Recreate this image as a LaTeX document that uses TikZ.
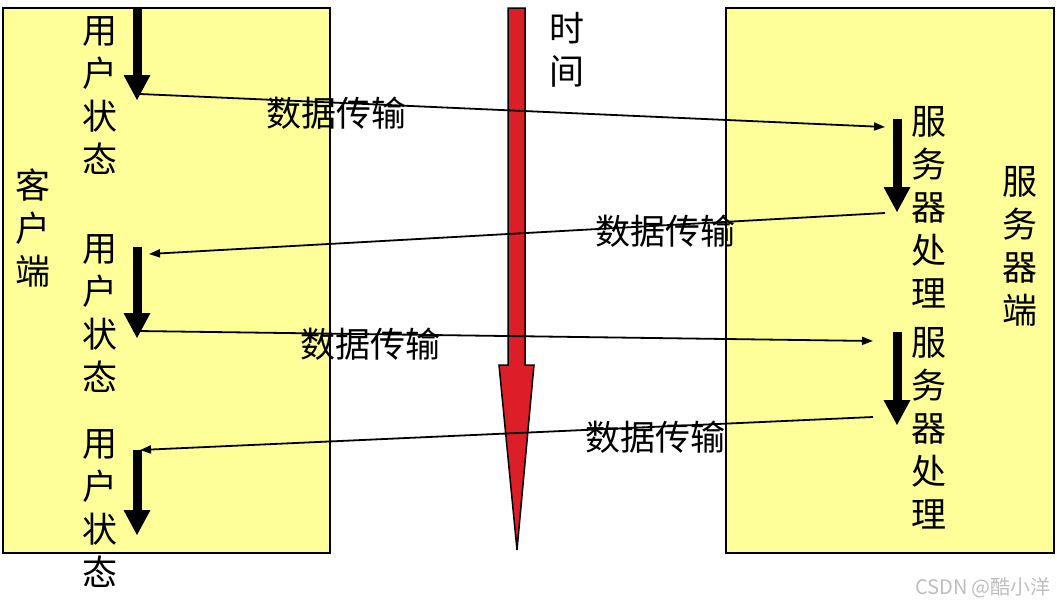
\documentclass[tikz,border=0pt]{standalone}
\usepackage{fontspec}
\newfontfamily\cjk{Noto Sans CJK SC}
\usetikzlibrary{arrows.meta}
\definecolor{boxyellow}{RGB}{255,255,153}
\definecolor{timered}{RGB}{220,30,40}
\definecolor{wmgray}{RGB}{190,190,190}
\tikzset{
  panel/.style={draw=black,line width=2pt},
  vtext/.style={font=\cjk\fontsize{35}{43}\selectfont,align=center,inner sep=0pt},
  lbl/.style={font=\cjk\fontsize{35}{40}\selectfont,inner sep=0pt},
  datalink/.style={line width=1.8pt,-{Triangle[length=11pt,width=8pt]}},
  procarrow/.style={line width=9pt,-{Triangle[length=25pt,width=27pt,line width=0pt]}},
}
\begin{document}
\begin{tikzpicture}[x=1pt,y=-1pt]
\useasboundingbox (0,0) rectangle (1057,606);
% panels fill
\fill[boxyellow] (3,8) rectangle (330,553);
\fill[boxyellow] (726,8) rectangle (1054,553);
% time arrow
\filldraw[fill=timered,draw=black,line width=1.5pt]
  (508,8) -- (525,8) -- (525,365) -- (534,365) -- (517,550) -- (499,365) -- (508,365) -- cycle;
% texts
\node[vtext] (client) at (33,228) {客\\户\\端};
\node[vtext] (server) at (1020,246) {服\\务\\器\\端};
\node[vtext] (time) at (567,50) {时\\间};
\node[vtext] (us1) at (100,96) {用\\户\\状\\态};
\node[vtext] (us2) at (100,314) {用\\户\\状\\态};
\node[vtext] (us3) at (100,509) {用\\户\\状\\态};
\node[vtext] (sp1) at (929,207) {服\\务\\器\\处\\理};
\node[vtext] (sp2) at (929,428) {服\\务\\器\\处\\理};
\node[lbl] (l1) at (336,113) {数据传输};
\node[lbl] (l2) at (665,231) {数据传输};
\node[lbl] (l3) at (370,344) {数据传输};
\node[lbl] (l4) at (655,437) {数据传输};
\node[font=\cjk\fontsize{20}{22}\selectfont,text=wmgray,inner sep=0pt] (wm) at (983,588) {CSDN @酷小洋};
% panel borders
\draw[panel] (3,8) rectangle (330,553);
\draw[panel] (726,8) rectangle (1054,553);
% coordinates
\coordinate (c1s) at (137,8);   \coordinate (c1e) at (137,100);
\coordinate (c2s) at (137,247); \coordinate (c2e) at (137,338);
\coordinate (c3s) at (137,450); \coordinate (c3e) at (137,535);
\coordinate (s1s) at (897,119); \coordinate (s1e) at (897,212);
\coordinate (s2s) at (897,332); \coordinate (s2e) at (897,425);
\coordinate (d1a) at (140,94);  \coordinate (d1b) at (885,127);
\coordinate (d2a) at (885,213); \coordinate (d2b) at (149,254);
\coordinate (d3a) at (138,331); \coordinate (d3b) at (873,341);
\coordinate (d4a) at (873,417); \coordinate (d4b) at (140,450);
% data transfer links
\draw[datalink] (d1a) -- (d1b);
\draw[datalink] (d2a) -- (d2b);
\draw[datalink] (d3a) -- (d3b);
\draw[datalink] (d4a) -- (d4b);
% processing arrows
\draw[procarrow] (c1s) -- (c1e);
\draw[procarrow] (c2s) -- (c2e);
\draw[procarrow] (c3s) -- (c3e);
\draw[procarrow] (s1s) -- (s1e);
\draw[procarrow] (s2s) -- (s2e);
\end{tikzpicture}
\end{document}
